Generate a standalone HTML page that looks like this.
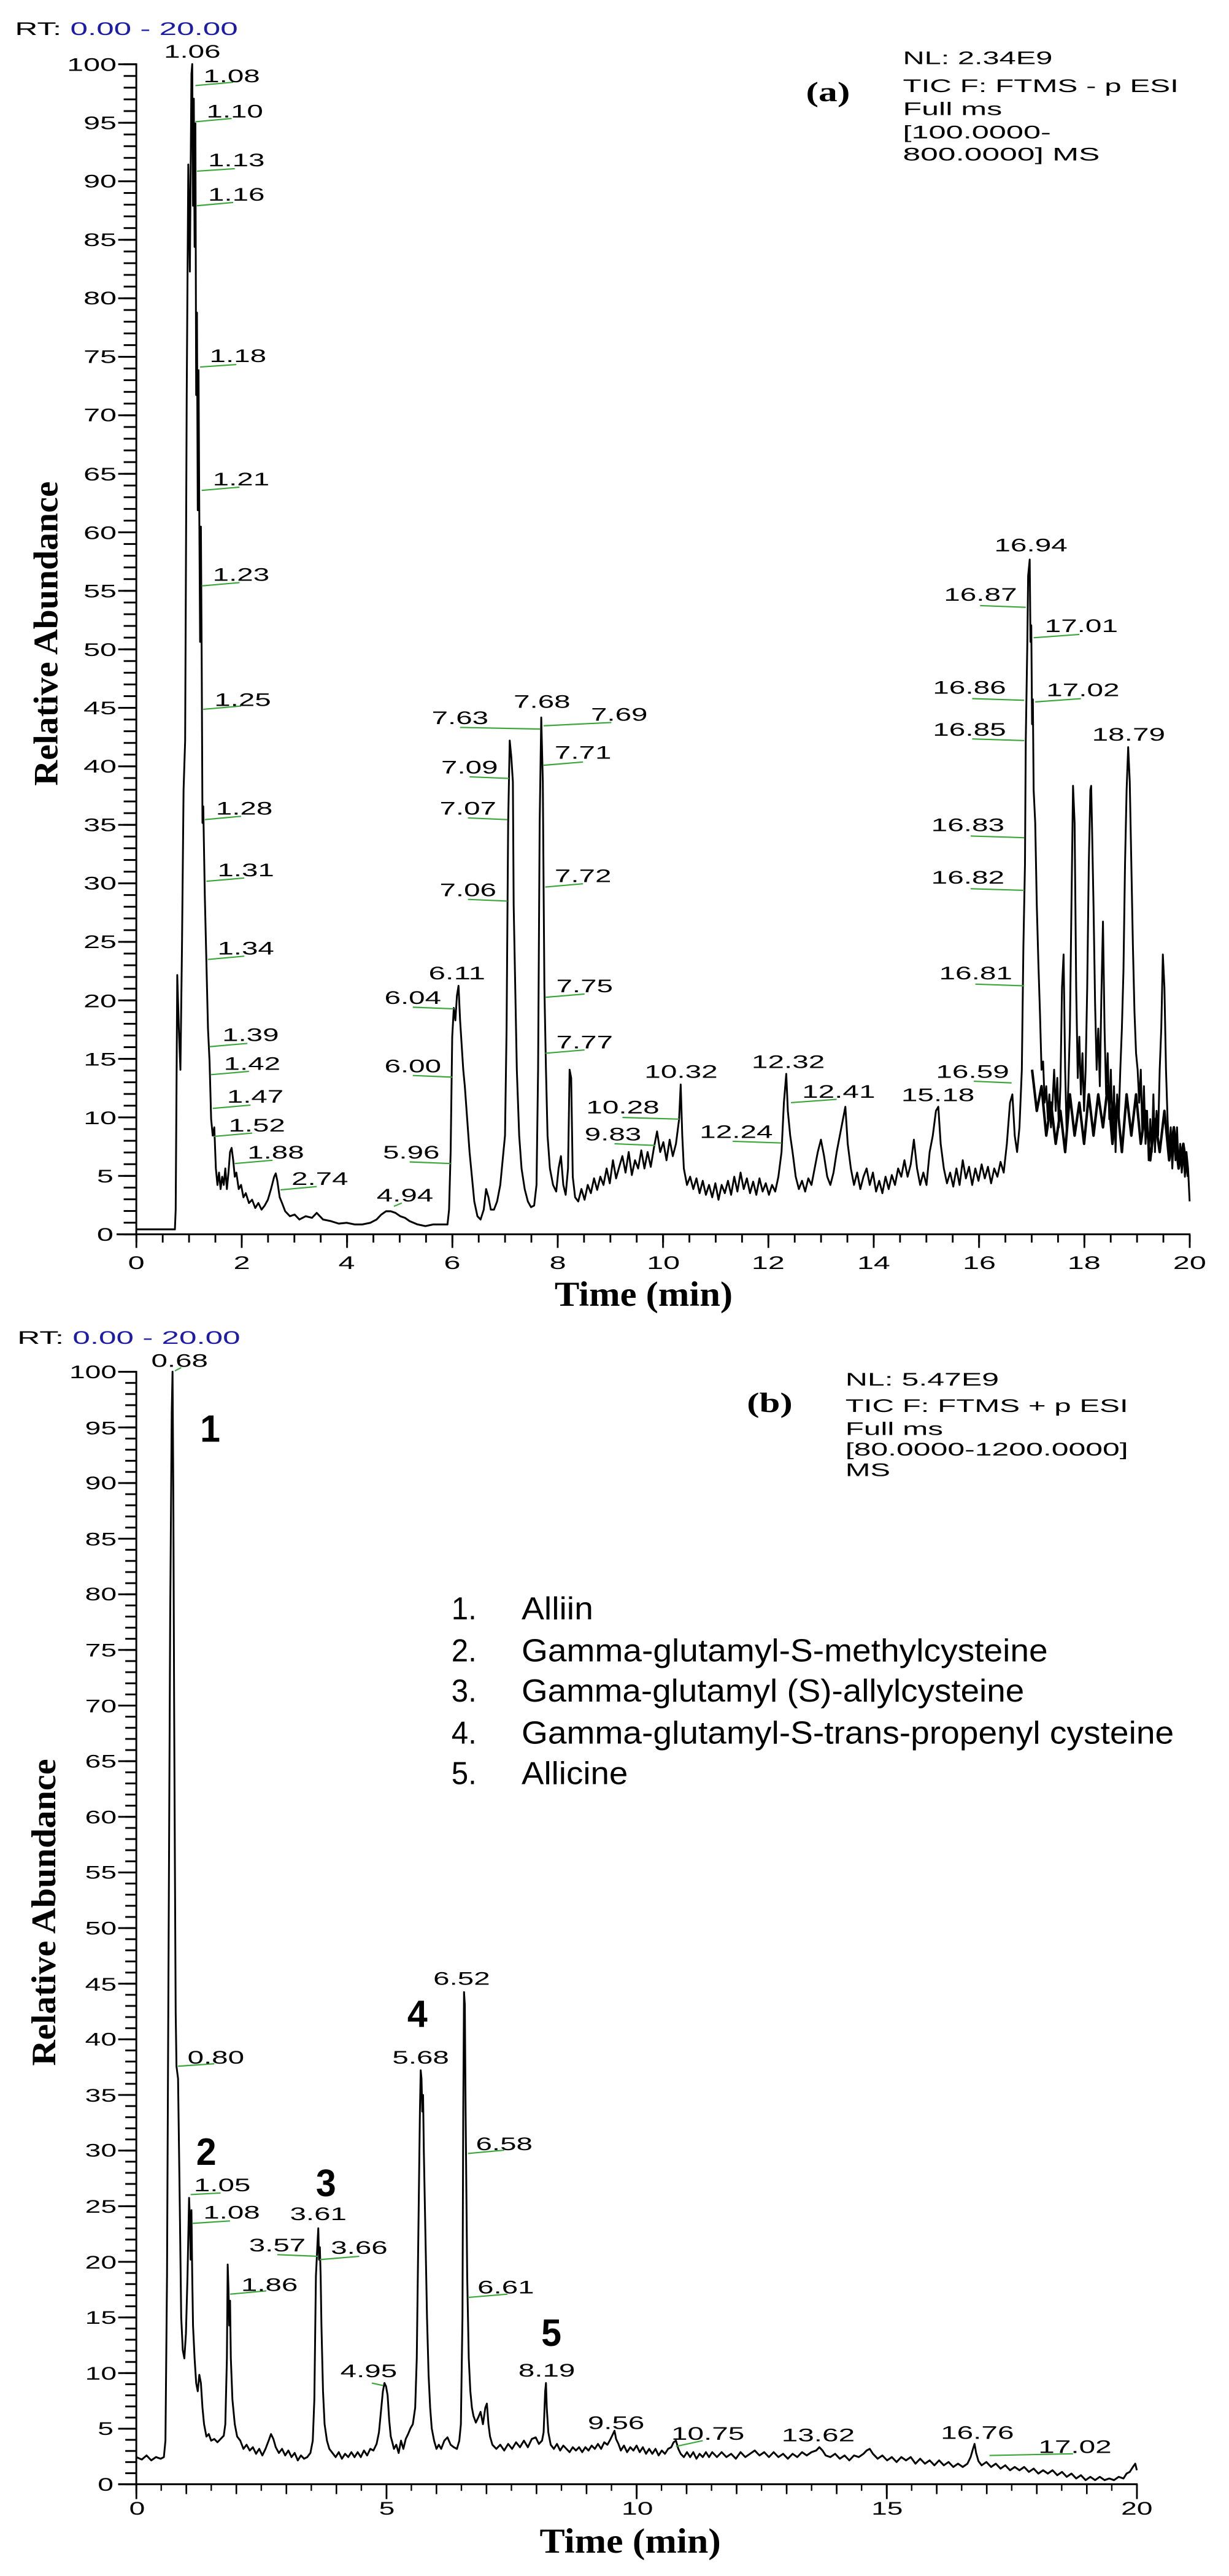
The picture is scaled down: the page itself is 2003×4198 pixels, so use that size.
<!DOCTYPE html>
<html><head><meta charset="utf-8"><style>
html,body{margin:0;padding:0;background:#fff;}
svg{display:block;}
.t{font-family:"Liberation Sans",Arial,sans-serif;font-size:22px;fill:#000;}
.lg{font-family:"Liberation Sans",Arial,sans-serif;font-size:39px;fill:#000;}
.bn{font-family:"Liberation Sans",Arial,sans-serif;font-size:46px;font-weight:bold;fill:#000;}
.s{font-family:"Liberation Serif","Times New Roman",serif;font-weight:bold;fill:#000;}
.g{stroke:#3aa63a;stroke-width:1.6;fill:none;}
.tr{stroke:#000;stroke-width:2.3;fill:none;stroke-linejoin:round;}
.tr2{stroke:#000;stroke-width:3.2;fill:none;stroke-linejoin:round;}
</style></head><body>
<svg width="2003" height="4198" viewBox="0 0 2003 4198" xmlns="http://www.w3.org/2000/svg">
<defs>
<pattern id="ayMin" patternUnits="userSpaceOnUse" x="0" y="1499" width="40" height="14.22"><rect x="0" y="0" width="40" height="2.2" fill="#000"/></pattern>
<pattern id="ayMaj" patternUnits="userSpaceOnUse" x="0" y="1499" width="40" height="71.1"><rect x="0" y="0" width="40" height="2.2" fill="#000"/></pattern>
<pattern id="axMin" patternUnits="userSpaceOnUse" x="172" y="0" width="33.425" height="40"><rect x="0" y="0" width="2.2" height="40" fill="#000"/></pattern>
<pattern id="axMaj" patternUnits="userSpaceOnUse" x="172" y="0" width="133.7" height="40"><rect x="0" y="0" width="2.2" height="40" fill="#000"/></pattern>
<pattern id="byMin" patternUnits="userSpaceOnUse" x="0" y="1452" width="40" height="13.52"><rect x="0" y="0" width="40" height="2.2" fill="#000"/></pattern>
<pattern id="byMaj" patternUnits="userSpaceOnUse" x="0" y="1452" width="40" height="67.6"><rect x="0" y="0" width="40" height="2.2" fill="#000"/></pattern>
<pattern id="bxMin" patternUnits="userSpaceOnUse" x="172" y="0" width="31.75" height="40"><rect x="0" y="0" width="1.8" height="40" fill="#000"/></pattern>
<pattern id="bxMed" patternUnits="userSpaceOnUse" x="172" y="0" width="63.5" height="40"><rect x="0" y="0" width="2" height="40" fill="#000"/></pattern>
<pattern id="bxMaj" patternUnits="userSpaceOnUse" x="172" y="0" width="317.5" height="40"><rect x="0" y="0" width="2.2" height="40" fill="#000"/></pattern>
</defs>
<rect width="2003" height="4198" fill="#fff"/>

<!-- ================= PANEL A ================= -->
<g transform="scale(1.284,1.341)">
<text class="t" x="19" y="42.5" textLength="283" lengthAdjust="spacingAndGlyphs"><tspan>RT: </tspan><tspan fill="#1c1ca8">0.00 - 20.00</tspan></text>
<rect x="157" y="76" width="16" height="1427" fill="url(#ayMin)"/>
<rect x="150" y="76" width="23" height="1427" fill="url(#ayMaj)"/>
<line x1="173" y1="77" x2="173" y2="1501" stroke="#000" stroke-width="2.3"/>
<line x1="148" y1="1500" x2="1511" y2="1500" stroke="#000" stroke-width="2.3"/>
<rect x="171" y="1500" width="1342" height="10" fill="url(#axMin)"/>
<rect x="171" y="1500" width="1342" height="16.5" fill="url(#axMaj)"/>
<g class="t" text-anchor="end">
<text x="148" y="86" textLength="63" lengthAdjust="spacingAndGlyphs">100</text>
<text x="148" y="157" textLength="42" lengthAdjust="spacingAndGlyphs">95</text>
<text x="148" y="228" textLength="42" lengthAdjust="spacingAndGlyphs">90</text>
<text x="148" y="299" textLength="42" lengthAdjust="spacingAndGlyphs">85</text>
<text x="148" y="370" textLength="42" lengthAdjust="spacingAndGlyphs">80</text>
<text x="148" y="441" textLength="42" lengthAdjust="spacingAndGlyphs">75</text>
<text x="148" y="512" textLength="42" lengthAdjust="spacingAndGlyphs">70</text>
<text x="148" y="584" textLength="42" lengthAdjust="spacingAndGlyphs">65</text>
<text x="148" y="655" textLength="42" lengthAdjust="spacingAndGlyphs">60</text>
<text x="148" y="726" textLength="42" lengthAdjust="spacingAndGlyphs">55</text>
<text x="148" y="797" textLength="42" lengthAdjust="spacingAndGlyphs">50</text>
<text x="148" y="868" textLength="42" lengthAdjust="spacingAndGlyphs">45</text>
<text x="148" y="939" textLength="42" lengthAdjust="spacingAndGlyphs">40</text>
<text x="148" y="1010" textLength="42" lengthAdjust="spacingAndGlyphs">35</text>
<text x="148" y="1081" textLength="42" lengthAdjust="spacingAndGlyphs">30</text>
<text x="148" y="1152" textLength="42" lengthAdjust="spacingAndGlyphs">25</text>
<text x="148" y="1224" textLength="42" lengthAdjust="spacingAndGlyphs">20</text>
<text x="148" y="1295" textLength="42" lengthAdjust="spacingAndGlyphs">15</text>
<text x="148" y="1366" textLength="42" lengthAdjust="spacingAndGlyphs">10</text>
<text x="144" y="1437" textLength="21" lengthAdjust="spacingAndGlyphs">5</text>
<text x="144" y="1508" textLength="21" lengthAdjust="spacingAndGlyphs">0</text>
</g>
<g class="t" text-anchor="middle">
<text x="173" y="1542" textLength="21" lengthAdjust="spacingAndGlyphs">0</text>
<text x="307" y="1542" textLength="21" lengthAdjust="spacingAndGlyphs">2</text>
<text x="440" y="1542" textLength="21" lengthAdjust="spacingAndGlyphs">4</text>
<text x="574" y="1542" textLength="21" lengthAdjust="spacingAndGlyphs">6</text>
<text x="708" y="1542" textLength="21" lengthAdjust="spacingAndGlyphs">8</text>
<text x="842" y="1542" textLength="42" lengthAdjust="spacingAndGlyphs">10</text>
<text x="975" y="1542" textLength="42" lengthAdjust="spacingAndGlyphs">12</text>
<text x="1109" y="1542" textLength="42" lengthAdjust="spacingAndGlyphs">14</text>
<text x="1243" y="1542" textLength="42" lengthAdjust="spacingAndGlyphs">16</text>
<text x="1376" y="1542" textLength="42" lengthAdjust="spacingAndGlyphs">18</text>
<text x="1510" y="1542" textLength="42" lengthAdjust="spacingAndGlyphs">20</text>
</g>
<text class="s" x="704" y="1587" font-size="43" textLength="226" lengthAdjust="spacingAndGlyphs">Time (min)</text>
<text class="s" transform="translate(73,770) rotate(-90)" text-anchor="middle" font-size="44" textLength="370" lengthAdjust="spacingAndGlyphs">Relative Abundance</text>
<text class="s" x="1023" y="123" font-size="34" textLength="56" lengthAdjust="spacingAndGlyphs">(a)</text>
<g class="t">
<text x="1146" y="78" textLength="190" lengthAdjust="spacingAndGlyphs">NL: 2.34E9</text>
<text x="1146" y="112" textLength="350" lengthAdjust="spacingAndGlyphs">TIC F: FTMS - p ESI</text>
<text x="1146" y="140" textLength="126" lengthAdjust="spacingAndGlyphs">Full ms</text>
<text x="1146" y="168" textLength="188" lengthAdjust="spacingAndGlyphs">[100.0000-</text>
<text x="1146" y="195" textLength="250" lengthAdjust="spacingAndGlyphs">800.0000]  MS</text>
</g>
<polyline class="tr" points="173,1494 222,1494 223,1470 225,1185 227,1250 229,1300 231,1150 233,960 235,900 237,480 239,200 241,330 243,90 244,78 245,250 246,120 247,300 248,150 249,480 250,380 251,620 252,450 253,630 254,780 255,640 256,800 257,1000 258,980 260,1090 262,1170 264,1250 266,1290 268,1360 270,1380 272,1370 274,1420 276,1440 278,1425 280,1445 282,1430 284,1440 286,1420 288,1445 290,1425 292,1400 294,1395 296,1410 298,1430 300,1425 303,1445 306,1440 309,1455 312,1450 316,1462 320,1458 324,1468 328,1462 332,1470 336,1465 340,1458 344,1445 348,1430 350,1426 352,1435 355,1455 358,1462 362,1472 368,1478 374,1476 380,1482 388,1478 396,1480 402,1474 410,1482 420,1484 430,1487 440,1486 450,1488 460,1488 470,1486 478,1482 484,1476 490,1472 496,1472 502,1474 508,1478 514,1480 520,1484 530,1488 540,1490 550,1488 560,1488 568,1488 570,1470 572,1400 574,1260 576,1225 578,1240 580,1210 582,1198 584,1240 586,1270 588,1300 590,1320 593,1360 596,1400 599,1430 602,1460 606,1478 610,1482 614,1470 617,1445 620,1455 623,1470 627,1470 631,1460 635,1440 638,1410 641,1380 643,1250 645,1000 647,900 649,920 651,950 652,1100 654,1200 656,1300 659,1380 662,1420 666,1445 670,1460 674,1467 678,1465 681,1440 683,1300 685,1000 687,872 689,950 690,1080 691,1200 693,1300 695,1380 698,1420 702,1440 706,1448 709,1420 712,1405 715,1440 718,1452 721,1420 723,1300 725,1310 727,1430 730,1455 734,1460 738,1445 742,1458 746,1440 750,1450 754,1432 758,1446 762,1430 766,1440 770,1420 774,1438 778,1410 782,1432 786,1418 790,1405 794,1425 798,1400 802,1428 806,1410 810,1420 814,1398 818,1420 822,1400 826,1418 830,1395 834,1375 838,1400 842,1388 846,1410 850,1385 854,1405 858,1390 862,1360 864,1318 866,1380 868,1420 872,1440 876,1430 880,1445 884,1432 888,1450 892,1435 896,1452 900,1440 904,1455 908,1438 912,1458 916,1440 920,1450 924,1435 928,1452 932,1430 936,1448 940,1425 944,1445 948,1432 952,1450 956,1436 960,1452 964,1432 968,1448 972,1438 976,1452 980,1440 984,1448 988,1430 992,1400 995,1340 998,1305 1000,1350 1003,1380 1006,1400 1010,1430 1014,1445 1018,1435 1022,1448 1026,1432 1030,1440 1034,1420 1038,1400 1042,1385 1046,1405 1050,1430 1054,1440 1058,1425 1062,1400 1066,1380 1070,1360 1073,1345 1076,1390 1080,1420 1084,1440 1088,1425 1092,1445 1096,1430 1100,1420 1104,1440 1108,1425 1112,1448 1116,1435 1120,1450 1124,1430 1128,1445 1132,1428 1136,1440 1140,1420 1144,1430 1148,1410 1152,1430 1156,1415 1160,1385 1164,1420 1168,1440 1172,1425 1176,1440 1180,1400 1184,1380 1188,1350 1191,1345 1194,1390 1198,1420 1202,1438 1206,1425 1210,1442 1214,1420 1218,1440 1222,1410 1226,1432 1230,1418 1234,1440 1238,1420 1242,1435 1246,1415 1250,1432 1254,1418 1258,1438 1262,1420 1266,1430 1270,1412 1274,1425 1278,1390 1282,1340 1285,1330 1288,1380 1291,1400 1294,1370 1297,1300 1299,1150 1301,1050 1302,900 1304,780 1305,700 1307,680 1308,780 1309,760 1310,880 1311,850 1312,960 1314,1000 1316,1100 1318,1170 1320,1230 1322,1300 1324,1290 1326,1340 1328,1320 1330,1360 1332,1330 1334,1370 1336,1340 1338,1300 1340,1350 1342,1310 1344,1370 1346,1320 1348,1200 1350,1160 1352,1300 1354,1380 1356,1320 1358,1250 1360,1100 1362,955 1364,1000 1366,1200 1368,1310 1370,1260 1372,1330 1374,1280 1376,1350 1378,1300 1380,1200 1382,1050 1384,960 1385,955 1386,1000 1388,1100 1390,1220 1392,1300 1394,1250 1396,1320 1398,1210 1400,1120 1402,1250 1404,1330 1406,1280 1408,1360 1410,1300 1412,1380 1414,1320 1416,1400 1418,1330 1420,1360 1422,1300 1424,1250 1426,1180 1428,1050 1430,960 1432,908 1434,950 1436,1050 1438,1150 1440,1230 1442,1280 1444,1300 1446,1340 1448,1300 1450,1380 1452,1320 1454,1390 1456,1350 1458,1410 1460,1360 1462,1400 1464,1330 1466,1400 1468,1350 1470,1380 1472,1300 1474,1250 1476,1160 1478,1200 1480,1300 1482,1360 1484,1400 1486,1370 1488,1420 1490,1380 1492,1410 1494,1370 1496,1420 1498,1390 1500,1425 1502,1400 1504,1430 1506,1400 1508,1420 1510,1460"/>
<polyline class="tr2" points="1310,1300 1316,1350 1322,1320 1328,1380 1334,1340 1340,1390 1346,1350 1352,1400 1358,1330 1364,1380 1370,1340 1376,1390 1382,1330 1388,1380 1394,1330 1400,1370 1406,1320 1412,1390 1418,1340 1424,1400 1430,1330 1436,1380 1442,1330 1448,1390 1454,1350 1460,1410 1466,1360 1472,1400 1478,1350 1484,1410 1490,1370 1496,1420 1502,1390 1508,1430"/>
<g class="g">
<line x1="248" y1="104" x2="296" y2="100"/><line x1="248" y1="148" x2="294" y2="144"/>
<line x1="250" y1="208" x2="298" y2="205"/><line x1="250" y1="250" x2="296" y2="246"/>
<line x1="254" y1="446" x2="300" y2="443"/><line x1="256" y1="596" x2="304" y2="592"/>
<line x1="256" y1="712" x2="304" y2="708"/><line x1="258" y1="862" x2="306" y2="858"/>
<line x1="260" y1="996" x2="306" y2="992"/><line x1="262" y1="1071" x2="310" y2="1067"/>
<line x1="264" y1="1166" x2="310" y2="1162"/><line x1="266" y1="1272" x2="314" y2="1268"/>
<line x1="268" y1="1306" x2="316" y2="1302"/><line x1="270" y1="1347" x2="318" y2="1343"/>
<line x1="272" y1="1381" x2="320" y2="1377"/><line x1="298" y1="1414" x2="346" y2="1410"/>
<line x1="356" y1="1446" x2="402" y2="1442"/><line x1="500" y1="1466" x2="510" y2="1462"/>
<line x1="520" y1="1412" x2="572" y2="1414"/><line x1="524" y1="1307" x2="574" y2="1309"/>
<line x1="524" y1="1224" x2="576" y2="1226"/><line x1="594" y1="1093" x2="644" y2="1095"/>
<line x1="594" y1="994" x2="644" y2="996"/><line x1="596" y1="944" x2="646" y2="946"/>
<line x1="584" y1="884" x2="686" y2="886"/><line x1="690" y1="882" x2="776" y2="878"/>
<line x1="690" y1="930" x2="740" y2="926"/><line x1="692" y1="1078" x2="740" y2="1074"/>
<line x1="692" y1="1212" x2="742" y2="1208"/><line x1="692" y1="1280" x2="742" y2="1276"/>
<line x1="780" y1="1390" x2="832" y2="1392"/><line x1="790" y1="1358" x2="862" y2="1360"/>
<line x1="930" y1="1387" x2="992" y2="1389"/><line x1="1004" y1="1340" x2="1062" y2="1336"/>
<line x1="1236" y1="1314" x2="1284" y2="1316"/><line x1="1238" y1="1196" x2="1300" y2="1198"/>
<line x1="1232" y1="1080" x2="1300" y2="1082"/><line x1="1232" y1="1016" x2="1300" y2="1018"/>
<line x1="1234" y1="898" x2="1300" y2="900"/><line x1="1234" y1="849" x2="1300" y2="851"/>
<line x1="1244" y1="736" x2="1302" y2="738"/><line x1="1312" y1="775" x2="1370" y2="771"/>
<line x1="1314" y1="853" x2="1372" y2="849"/>
</g>
<g class="t">
<text x="208" y="70" textLength="72" lengthAdjust="spacingAndGlyphs">1.06</text>
<text x="258" y="100" textLength="72" lengthAdjust="spacingAndGlyphs">1.08</text>
<text x="262" y="143" textLength="72" lengthAdjust="spacingAndGlyphs">1.10</text>
<text x="264" y="202" textLength="72" lengthAdjust="spacingAndGlyphs">1.13</text>
<text x="264" y="244" textLength="72" lengthAdjust="spacingAndGlyphs">1.16</text>
<text x="266" y="440" textLength="72" lengthAdjust="spacingAndGlyphs">1.18</text>
<text x="270" y="590" textLength="72" lengthAdjust="spacingAndGlyphs">1.21</text>
<text x="270" y="706" textLength="72" lengthAdjust="spacingAndGlyphs">1.23</text>
<text x="272" y="858" textLength="72" lengthAdjust="spacingAndGlyphs">1.25</text>
<text x="274" y="990" textLength="72" lengthAdjust="spacingAndGlyphs">1.28</text>
<text x="276" y="1065" textLength="72" lengthAdjust="spacingAndGlyphs">1.31</text>
<text x="276" y="1160" textLength="72" lengthAdjust="spacingAndGlyphs">1.34</text>
<text x="282" y="1265" textLength="72" lengthAdjust="spacingAndGlyphs">1.39</text>
<text x="284" y="1300" textLength="72" lengthAdjust="spacingAndGlyphs">1.42</text>
<text x="288" y="1340" textLength="72" lengthAdjust="spacingAndGlyphs">1.47</text>
<text x="290" y="1375" textLength="72" lengthAdjust="spacingAndGlyphs">1.52</text>
<text x="314" y="1408" textLength="72" lengthAdjust="spacingAndGlyphs">1.88</text>
<text x="370" y="1440" textLength="72" lengthAdjust="spacingAndGlyphs">2.74</text>
<text x="478" y="1460" textLength="72" lengthAdjust="spacingAndGlyphs">4.94</text>
<text x="486" y="1408" textLength="72" lengthAdjust="spacingAndGlyphs">5.96</text>
<text x="488" y="1303" textLength="72" lengthAdjust="spacingAndGlyphs">6.00</text>
<text x="488" y="1220" textLength="72" lengthAdjust="spacingAndGlyphs">6.04</text>
<text x="544" y="1190" textLength="72" lengthAdjust="spacingAndGlyphs">6.11</text>
<text x="558" y="1089" textLength="72" lengthAdjust="spacingAndGlyphs">7.06</text>
<text x="558" y="990" textLength="72" lengthAdjust="spacingAndGlyphs">7.07</text>
<text x="560" y="940" textLength="72" lengthAdjust="spacingAndGlyphs">7.09</text>
<text x="548" y="880" textLength="72" lengthAdjust="spacingAndGlyphs">7.63</text>
<text x="652" y="860" textLength="72" lengthAdjust="spacingAndGlyphs">7.68</text>
<text x="750" y="876" textLength="72" lengthAdjust="spacingAndGlyphs">7.69</text>
<text x="704" y="922" textLength="72" lengthAdjust="spacingAndGlyphs">7.71</text>
<text x="704" y="1072" textLength="72" lengthAdjust="spacingAndGlyphs">7.72</text>
<text x="706" y="1206" textLength="72" lengthAdjust="spacingAndGlyphs">7.75</text>
<text x="706" y="1274" textLength="72" lengthAdjust="spacingAndGlyphs">7.77</text>
<text x="742" y="1386" textLength="72" lengthAdjust="spacingAndGlyphs">9.83</text>
<text x="744" y="1353" textLength="93" lengthAdjust="spacingAndGlyphs">10.28</text>
<text x="818" y="1310" textLength="93" lengthAdjust="spacingAndGlyphs">10.32</text>
<text x="888" y="1383" textLength="93" lengthAdjust="spacingAndGlyphs">12.24</text>
<text x="954" y="1298" textLength="93" lengthAdjust="spacingAndGlyphs">12.32</text>
<text x="1018" y="1334" textLength="93" lengthAdjust="spacingAndGlyphs">12.41</text>
<text x="1144" y="1338" textLength="93" lengthAdjust="spacingAndGlyphs">15.18</text>
<text x="1188" y="1310" textLength="93" lengthAdjust="spacingAndGlyphs">16.59</text>
<text x="1192" y="1190" textLength="93" lengthAdjust="spacingAndGlyphs">16.81</text>
<text x="1182" y="1074" textLength="93" lengthAdjust="spacingAndGlyphs">16.82</text>
<text x="1182" y="1010" textLength="93" lengthAdjust="spacingAndGlyphs">16.83</text>
<text x="1184" y="894" textLength="93" lengthAdjust="spacingAndGlyphs">16.85</text>
<text x="1184" y="843" textLength="93" lengthAdjust="spacingAndGlyphs">16.86</text>
<text x="1198" y="730" textLength="93" lengthAdjust="spacingAndGlyphs">16.87</text>
<text x="1262" y="670" textLength="93" lengthAdjust="spacingAndGlyphs">16.94</text>
<text x="1326" y="768" textLength="93" lengthAdjust="spacingAndGlyphs">17.01</text>
<text x="1328" y="846" textLength="93" lengthAdjust="spacingAndGlyphs">17.02</text>
<text x="1386" y="900" textLength="93" lengthAdjust="spacingAndGlyphs">18.79</text>
</g>
</g>

<!-- ================= PANEL B ================= -->
<g transform="translate(0,2100) scale(1.284,1.341)">
<text class="t" x="22" y="67" textLength="283" lengthAdjust="spacingAndGlyphs"><tspan>RT: </tspan><tspan fill="#1c1ca8">0.00 - 20.00</tspan></text>
<rect x="159" y="99" width="14" height="1356" fill="url(#byMin)"/>
<rect x="150" y="99" width="23" height="1356" fill="url(#byMaj)"/>
<line x1="173" y1="100" x2="173" y2="1454" stroke="#000" stroke-width="2.3"/>
<line x1="150" y1="1453" x2="1444" y2="1453" stroke="#000" stroke-width="2.3"/>
<rect x="171" y="1453" width="1275" height="8" fill="url(#bxMin)"/>
<rect x="171" y="1453" width="1275" height="12" fill="url(#bxMed)"/>
<rect x="171" y="1453" width="1275" height="18" fill="url(#bxMaj)"/>
<g class="t" text-anchor="end">
<text x="148" y="109" textLength="60" lengthAdjust="spacingAndGlyphs">100</text>
<text x="148" y="177" textLength="40" lengthAdjust="spacingAndGlyphs">95</text>
<text x="148" y="244" textLength="40" lengthAdjust="spacingAndGlyphs">90</text>
<text x="148" y="312" textLength="40" lengthAdjust="spacingAndGlyphs">85</text>
<text x="148" y="379" textLength="40" lengthAdjust="spacingAndGlyphs">80</text>
<text x="148" y="447" textLength="40" lengthAdjust="spacingAndGlyphs">75</text>
<text x="148" y="515" textLength="40" lengthAdjust="spacingAndGlyphs">70</text>
<text x="148" y="582" textLength="40" lengthAdjust="spacingAndGlyphs">65</text>
<text x="148" y="650" textLength="40" lengthAdjust="spacingAndGlyphs">60</text>
<text x="148" y="717" textLength="40" lengthAdjust="spacingAndGlyphs">55</text>
<text x="148" y="785" textLength="40" lengthAdjust="spacingAndGlyphs">50</text>
<text x="148" y="853" textLength="40" lengthAdjust="spacingAndGlyphs">45</text>
<text x="148" y="920" textLength="40" lengthAdjust="spacingAndGlyphs">40</text>
<text x="148" y="988" textLength="40" lengthAdjust="spacingAndGlyphs">35</text>
<text x="148" y="1055" textLength="40" lengthAdjust="spacingAndGlyphs">30</text>
<text x="148" y="1123" textLength="40" lengthAdjust="spacingAndGlyphs">25</text>
<text x="148" y="1191" textLength="40" lengthAdjust="spacingAndGlyphs">20</text>
<text x="148" y="1258" textLength="40" lengthAdjust="spacingAndGlyphs">15</text>
<text x="148" y="1326" textLength="40" lengthAdjust="spacingAndGlyphs">10</text>
<text x="144" y="1393" textLength="20" lengthAdjust="spacingAndGlyphs">5</text>
<text x="144" y="1461" textLength="20" lengthAdjust="spacingAndGlyphs">0</text>
</g>
<g class="t" text-anchor="middle">
<text x="174" y="1490" textLength="20" lengthAdjust="spacingAndGlyphs">0</text>
<text x="491" y="1490" textLength="20" lengthAdjust="spacingAndGlyphs">5</text>
<text x="809" y="1490" textLength="40" lengthAdjust="spacingAndGlyphs">10</text>
<text x="1126" y="1490" textLength="40" lengthAdjust="spacingAndGlyphs">15</text>
<text x="1443" y="1490" textLength="40" lengthAdjust="spacingAndGlyphs">20</text>
</g>
<text class="s" x="685" y="1536" font-size="43" textLength="230" lengthAdjust="spacingAndGlyphs">Time (min)</text>
<text class="s" transform="translate(70,758) rotate(-90)" text-anchor="middle" font-size="44" textLength="373" lengthAdjust="spacingAndGlyphs">Relative Abundance</text>
<text class="s" x="948" y="150" font-size="34" textLength="58" lengthAdjust="spacingAndGlyphs">(b)</text>
<g class="t">
<text x="1073" y="118" textLength="195" lengthAdjust="spacingAndGlyphs">NL: 5.47E9</text>
<text x="1073" y="150" textLength="359" lengthAdjust="spacingAndGlyphs">TIC F: FTMS + p ESI</text>
<text x="1073" y="178" textLength="124" lengthAdjust="spacingAndGlyphs">Full ms</text>
<text x="1073" y="203" textLength="359" lengthAdjust="spacingAndGlyphs">[80.0000-1200.0000]</text>
<text x="1073" y="228" textLength="57" lengthAdjust="spacingAndGlyphs">MS</text>
</g>
<g class="lg">
<text x="573" y="402" textLength="32" lengthAdjust="spacingAndGlyphs">1.</text>
<text x="662" y="402" textLength="91" lengthAdjust="spacingAndGlyphs">Alliin</text>
<text x="573" y="453" textLength="32" lengthAdjust="spacingAndGlyphs">2.</text>
<text x="662" y="453" textLength="668" lengthAdjust="spacingAndGlyphs">Gamma-glutamyl-S-methylcysteine</text>
<text x="573" y="502" textLength="32" lengthAdjust="spacingAndGlyphs">3.</text>
<text x="662" y="502" textLength="638" lengthAdjust="spacingAndGlyphs">Gamma-glutamyl (S)-allylcysteine</text>
<text x="573" y="553" textLength="32" lengthAdjust="spacingAndGlyphs">4.</text>
<text x="662" y="553" textLength="828" lengthAdjust="spacingAndGlyphs">Gamma-glutamyl-S-trans-propenyl cysteine</text>
<text x="573" y="602" textLength="32" lengthAdjust="spacingAndGlyphs">5.</text>
<text x="662" y="602" textLength="135" lengthAdjust="spacingAndGlyphs">Allicine</text>
</g>
<g class="bn">
<text x="254" y="186">1</text>
<text x="249" y="1065">2</text>
<text x="401" y="1103">3</text>
<text x="517" y="897">4</text>
<text x="687" y="1285">5</text>
</g>
<polyline class="tr" points="173,1420 180,1423 186,1418 192,1424 198,1420 204,1422 208,1420 210,1400 212,1200 214,800 216,400 218,150 219,101 220,250 221,500 222,700 223,880 224,945 226,960 228,1100 230,1250 232,1290 234,1300 236,1270 238,1200 240,1105 241,1130 242,1180 243,1120 244,1200 245,1260 247,1300 249,1330 251,1340 253,1320 255,1330 257,1360 259,1380 262,1395 265,1392 268,1400 272,1398 276,1402 280,1398 284,1394 286,1380 288,1300 289,1186 290,1215 291,1260 292,1230 293,1300 295,1350 298,1380 301,1395 305,1400 309,1410 313,1405 317,1412 321,1408 325,1416 329,1410 333,1418 337,1410 341,1400 344,1392 347,1398 350,1408 354,1415 358,1410 362,1418 366,1412 370,1420 374,1415 378,1424 382,1418 386,1422 390,1420 394,1415 397,1400 399,1350 401,1200 403,1160 404,1142 405,1180 406,1165 407,1200 408,1260 410,1340 412,1380 415,1400 418,1410 422,1415 426,1420 430,1414 434,1422 438,1416 442,1420 446,1414 450,1420 454,1414 458,1420 462,1412 466,1418 470,1410 474,1412 478,1404 481,1390 484,1360 486,1340 488,1330 490,1334 492,1345 494,1375 496,1395 498,1402 500,1410 503,1405 506,1415 509,1400 512,1410 515,1398 518,1392 521,1385 524,1380 527,1360 529,1300 531,1150 533,1000 534,950 535,960 536,1000 537,980 538,1050 540,1150 542,1250 544,1320 546,1360 548,1385 551,1400 554,1410 557,1405 560,1410 564,1400 568,1396 572,1405 576,1408 580,1410 583,1400 585,1380 587,1250 588,1000 589,855 590,870 591,1000 592,1100 593,1200 594,1250 595,1300 597,1340 599,1360 601,1370 604,1378 607,1372 610,1365 613,1380 616,1360 618,1355 620,1380 622,1395 625,1405 630,1410 635,1405 640,1412 645,1404 650,1410 655,1402 660,1408 665,1400 670,1408 675,1398 680,1396 684,1404 688,1400 690,1390 692,1340 693,1330 694,1360 696,1390 699,1405 703,1410 707,1404 711,1412 715,1406 719,1410 723,1414 727,1408 731,1412 735,1408 739,1414 743,1408 747,1412 751,1406 755,1410 759,1404 763,1410 767,1402 771,1405 775,1398 778,1392 780,1388 782,1398 785,1404 788,1412 792,1406 796,1414 800,1408 804,1412 808,1406 812,1414 816,1408 820,1416 824,1410 828,1416 832,1410 836,1418 840,1412 844,1416 848,1410 852,1408 855,1402 858,1400 861,1410 864,1416 868,1420 872,1414 876,1420 880,1414 884,1422 888,1416 892,1420 896,1414 900,1420 904,1414 910,1420 916,1414 922,1420 928,1416 934,1422 940,1414 946,1420 952,1416 958,1412 964,1418 970,1414 976,1420 982,1414 988,1420 994,1416 1000,1422 1006,1416 1012,1420 1018,1414 1024,1418 1030,1414 1036,1412 1040,1408 1044,1412 1048,1418 1054,1420 1060,1416 1066,1422 1072,1418 1078,1424 1084,1418 1090,1420 1096,1416 1100,1412 1104,1410 1108,1416 1114,1422 1120,1418 1126,1424 1132,1420 1138,1426 1144,1420 1150,1424 1156,1420 1162,1428 1168,1422 1174,1428 1180,1424 1186,1430 1192,1424 1198,1430 1204,1426 1210,1432 1216,1428 1222,1432 1228,1428 1232,1420 1235,1410 1237,1404 1239,1415 1242,1425 1246,1430 1252,1426 1258,1432 1264,1428 1270,1434 1276,1430 1282,1436 1288,1432 1294,1436 1300,1432 1306,1438 1312,1434 1318,1440 1324,1436 1330,1440 1336,1436 1342,1442 1348,1438 1354,1444 1360,1440 1366,1446 1372,1442 1378,1448 1384,1444 1390,1448 1396,1444 1402,1448 1408,1446 1414,1448 1420,1444 1426,1446 1430,1440 1434,1438 1438,1432 1441,1428 1443,1436"/>
<g class="g">
<line x1="222" y1="100" x2="230" y2="96"/>
<line x1="226" y1="945" x2="272" y2="942"/>
<line x1="242" y1="1101" x2="280" y2="1099"/>
<line x1="244" y1="1136" x2="292" y2="1133"/>
<line x1="292" y1="1222" x2="338" y2="1218"/>
<line x1="352" y1="1174" x2="404" y2="1176"/>
<line x1="406" y1="1180" x2="456" y2="1176"/>
<line x1="472" y1="1330" x2="486" y2="1333"/>
<line x1="594" y1="1051" x2="640" y2="1047"/>
<line x1="594" y1="1226" x2="644" y2="1222"/>
<line x1="858" y1="1407" x2="892" y2="1400"/>
<line x1="1256" y1="1418" x2="1362" y2="1416"/>
</g>
<g class="t">
<text x="192" y="95" textLength="72" lengthAdjust="spacingAndGlyphs">0.68</text>
<text x="238" y="942" textLength="72" lengthAdjust="spacingAndGlyphs">0.80</text>
<text x="246" y="1097" textLength="72" lengthAdjust="spacingAndGlyphs">1.05</text>
<text x="258" y="1130" textLength="72" lengthAdjust="spacingAndGlyphs">1.08</text>
<text x="316" y="1170" textLength="72" lengthAdjust="spacingAndGlyphs">3.57</text>
<text x="368" y="1132" textLength="72" lengthAdjust="spacingAndGlyphs">3.61</text>
<text x="420" y="1173" textLength="72" lengthAdjust="spacingAndGlyphs">3.66</text>
<text x="306" y="1218" textLength="72" lengthAdjust="spacingAndGlyphs">1.86</text>
<text x="432" y="1323" textLength="72" lengthAdjust="spacingAndGlyphs">4.95</text>
<text x="498" y="942" textLength="72" lengthAdjust="spacingAndGlyphs">5.68</text>
<text x="550" y="846" textLength="72" lengthAdjust="spacingAndGlyphs">6.52</text>
<text x="604" y="1047" textLength="72" lengthAdjust="spacingAndGlyphs">6.58</text>
<text x="606" y="1221" textLength="72" lengthAdjust="spacingAndGlyphs">6.61</text>
<text x="658" y="1322" textLength="72" lengthAdjust="spacingAndGlyphs">8.19</text>
<text x="746" y="1386" textLength="72" lengthAdjust="spacingAndGlyphs">9.56</text>
<text x="852" y="1399" textLength="93" lengthAdjust="spacingAndGlyphs">10.75</text>
<text x="992" y="1401" textLength="93" lengthAdjust="spacingAndGlyphs">13.62</text>
<text x="1194" y="1398" textLength="93" lengthAdjust="spacingAndGlyphs">16.76</text>
<text x="1318" y="1415" textLength="93" lengthAdjust="spacingAndGlyphs">17.02</text>
</g>
</g>
</svg>
</body></html>
